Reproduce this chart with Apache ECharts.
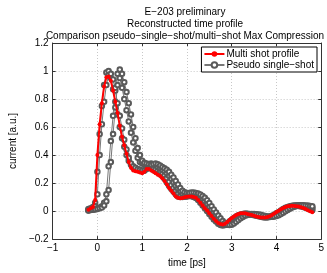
<!DOCTYPE html>
<html>
<head>
<meta charset="utf-8">
<script src="https://cdn.jsdelivr.net/npm/echarts@6/dist/echarts.min.js"></script>
<style>html,body{margin:0;padding:0;background:#fff}#c{width:327px;height:273px}</style>
</head>
<body>
<div id="c"></div>
<script>
var titleLines = ['E\u2212203 preliminary', 'Reconstructed time profile', 'Comparison pseudo\u2212single\u2212shot/multi\u2212shot Max Compression'];
var xLabel = 'time [ps]';
var yLabel = 'current [a.u.]';
var nameMulti = 'Multi shot profile';
var nameSingle = 'Pseudo single\u2212shot';

var timePs = [-0.20,-0.15,-0.10,-0.05,0.00,0.05,0.10,0.15,0.20,0.25,0.30,0.35,0.40,0.45,0.50,0.55,0.60,0.65,0.70,0.75,
0.80,0.85,0.90,0.95,1.00,1.05,1.10,1.15,1.20,1.25,1.30,1.35,1.40,1.45,1.50,1.55,1.60,1.65,1.70,1.75,
1.80,1.85,1.90,1.95,2.00,2.05,2.10,2.15,2.20,2.25,2.30,2.35,2.40,2.45,2.50,2.55,2.60,2.65,2.70,2.75,
2.80,2.85,2.90,2.95,3.00,3.05,3.10,3.15,3.20,3.25,3.30,3.35,3.40,3.45,3.50,3.55,3.60,3.65,3.70,3.75,
3.80,3.85,3.90,3.95,4.00,4.05,4.10,4.15,4.20,4.25,4.30,4.35,4.40,4.45,4.50,4.55,4.60,4.65,4.70,4.75,4.80];

var multiShot = [0.01,0.02,0.03,0.08,0.40,0.62,0.77,0.89,0.955,0.96,0.93,0.86,0.78,0.70,0.61,0.53,0.47,0.41,0.35,0.31,
0.29,0.285,0.28,0.275,0.27,0.28,0.30,0.30,0.29,0.28,0.27,0.26,0.25,0.235,0.215,0.19,0.165,0.145,0.125,0.105,
0.095,0.092,0.093,0.098,0.103,0.105,0.105,0.10,0.095,0.08,0.06,0.04,0.02,0.005,-0.015,-0.035,-0.055,-0.07,-0.085,-0.093,
-0.095,-0.09,-0.078,-0.064,-0.05,-0.038,-0.028,-0.02,-0.016,-0.015,-0.016,-0.02,-0.024,-0.028,-0.033,-0.038,-0.042,-0.045,-0.046,-0.045,
-0.042,-0.036,-0.028,-0.018,-0.007,0.003,0.013,0.022,0.029,0.034,0.037,0.038,0.037,0.035,0.032,0.028,0.022,0.014,0.006,-0.002,-0.008];

var single1 = [0.015,0.02,0.03,0.06,0.28,0.55,0.75,0.90,0.99,1.00,0.95,0.87,0.78,0.69,0.60,0.52,0.46,0.40,0.36,0.33,
0.31,0.30,0.295,0.29,0.285,0.29,0.31,0.315,0.305,0.295,0.285,0.275,0.265,0.25,0.23,0.205,0.18,0.16,0.14,0.12,
0.105,0.10,0.10,0.102,0.105,0.107,0.106,0.10,0.093,0.08,0.06,0.04,0.02,0.0,-0.02,-0.04,-0.06,-0.075,-0.09,-0.10,
-0.103,-0.098,-0.088,-0.075,-0.062,-0.05,-0.038,-0.03,-0.024,-0.02,-0.018,-0.019,-0.022,-0.025,-0.029,-0.033,-0.037,-0.041,-0.044,-0.045,
-0.044,-0.04,-0.034,-0.026,-0.016,-0.006,0.004,0.014,0.023,0.03,0.035,0.038,0.039,0.038,0.036,0.033,0.029,0.024,0.018,0.012,0.006];

var single2 = [0.01,0.015,0.02,0.035,0.12,0.40,0.62,0.78,0.90,0.97,0.98,0.94,0.86,0.77,0.68,0.59,0.51,0.44,0.38,0.34,
0.32,0.31,0.30,0.295,0.29,0.29,0.30,0.31,0.315,0.31,0.30,0.29,0.28,0.27,0.255,0.235,0.21,0.185,0.165,0.145,
0.125,0.11,0.105,0.105,0.108,0.11,0.112,0.11,0.105,0.095,0.08,0.06,0.04,0.02,0.0,-0.02,-0.04,-0.058,-0.075,-0.088,
-0.097,-0.10,-0.096,-0.087,-0.075,-0.062,-0.05,-0.04,-0.032,-0.026,-0.022,-0.02,-0.02,-0.022,-0.025,-0.029,-0.033,-0.037,-0.041,-0.043,
-0.044,-0.042,-0.038,-0.032,-0.024,-0.015,-0.005,0.005,0.015,0.023,0.03,0.035,0.038,0.04,0.04,0.038,0.035,0.031,0.027,0.022,0.017];

var single3 = [0.005,0.01,0.012,0.015,0.02,0.025,0.035,0.06,0.12,0.32,0.50,0.68,0.88,0.98,0.95,0.88,0.80,0.72,0.64,0.56,
0.49,0.43,0.38,0.35,0.34,0.335,0.33,0.335,0.34,0.335,0.325,0.315,0.305,0.295,0.285,0.27,0.25,0.23,0.205,0.18,
0.16,0.14,0.125,0.12,0.12,0.122,0.125,0.125,0.12,0.115,0.105,0.09,0.07,0.05,0.03,0.01,-0.01,-0.03,-0.05,-0.068,
-0.082,-0.092,-0.097,-0.095,-0.088,-0.077,-0.065,-0.053,-0.043,-0.035,-0.028,-0.024,-0.022,-0.021,-0.022,-0.025,-0.028,-0.032,-0.036,-0.039,
-0.041,-0.041,-0.04,-0.036,-0.03,-0.022,-0.013,-0.003,0.007,0.016,0.024,0.03,0.035,0.038,0.04,0.04,0.039,0.037,0.034,0.031,0.027];

var single4 = [0.005,0.008,0.01,0.012,0.015,0.02,0.025,0.04,0.07,0.15,0.35,0.55,0.74,0.90,1.01,0.98,0.92,0.85,0.77,0.69,
0.60,0.52,0.45,0.40,0.36,0.345,0.34,0.335,0.33,0.335,0.34,0.335,0.325,0.315,0.305,0.295,0.28,0.26,0.24,0.215,
0.19,0.165,0.145,0.135,0.13,0.13,0.132,0.133,0.13,0.125,0.118,0.108,0.095,0.078,0.058,0.035,0.012,-0.01,-0.032,-0.052,
-0.07,-0.085,-0.095,-0.10,-0.097,-0.088,-0.077,-0.064,-0.052,-0.042,-0.034,-0.028,-0.024,-0.022,-0.021,-0.022,-0.024,-0.027,-0.031,-0.035,
-0.038,-0.04,-0.04,-0.039,-0.035,-0.029,-0.021,-0.012,-0.002,0.008,0.017,0.025,0.031,0.036,0.039,0.041,0.041,0.04,0.039,0.037,0.034];

var singleTraces = [single1, single2, single3, single4];

function pairs(ys){ return timePs.map(function(t,i){ return [t, ys[i]]; }); }
function minus(v){ return String(v).replace('-', '\u2212'); }

var FONT = 'Liberation Sans, Arial, sans-serif';
var axisCol = '#333';
var gridLine = {show:true, lineStyle:{color:'#c8c8c8', type:[1,2], width:1}};

var series = [];
singleTraces.forEach(function(tr){
  series.push({
    name: nameSingle, type:'line', data: pairs(tr),
    symbol:'emptyCircle', symbolSize:4.5, showSymbol:true,
    lineStyle:{color:'#777', width:1},
    itemStyle:{color:'#5a5a5a', borderColor:'#5a5a5a', borderWidth:1},
    z:2, animation:false, silent:true
  });
});
series.push({
  name: nameMulti, type:'line', data: pairs(multiShot),
  symbol:'circle', symbolSize:4, showSymbol:true,
  lineStyle:{color:'#ff0000', width:2},
  itemStyle:{color:'#ff0000'},
  z:5, animation:false, silent:true
});

var chart = echarts.init(document.getElementById('c'), null, {renderer:'canvas'});
chart.setOption({
  backgroundColor:'#fff',
  animation:false,
  title: titleLines.map(function(s,i){
    return {text:s, left:180, top:2+i*12, textAlign:'center',
      textStyle:{fontFamily:FONT, fontSize:10, fontWeight:'normal', color:'#000'}};
  }),
  grid:{left:39, right:5, top:43, bottom:27, show:false},
  legend:{
    data:[nameMulti, nameSingle], orient:'vertical', right:10, top:47,
    backgroundColor:'#fff', borderColor:'#000', borderWidth:1, padding:[2,3,2,2],
    itemGap:1, itemWidth:20, itemHeight:7,
    textStyle:{fontFamily:FONT, fontSize:10, color:'#000', padding:[0,0,0,-3]}
  },
  xAxis:[{
    type:'value', min:-1, max:5, interval:1, position:'bottom',
    name:xLabel, nameLocation:'middle', nameGap:16,
    nameTextStyle:{fontFamily:FONT, fontSize:10, color:'#000'},
    axisLine:{show:true, onZero:false, lineStyle:{color:axisCol}},
    axisTick:{show:true, inside:true, length:3, lineStyle:{color:axisCol}},
    axisLabel:{fontFamily:FONT, fontSize:10, color:'#000', margin:4, formatter:minus},
    splitLine:gridLine
  },{
    type:'value', min:-1, max:5, interval:1, position:'top',
    axisLine:{show:true, onZero:false, lineStyle:{color:axisCol}},
    axisTick:{show:true, inside:true, length:3, lineStyle:{color:axisCol}},
    axisLabel:{show:false}, splitLine:{show:false}
  }],
  yAxis:[{
    type:'value', min:-0.2, max:1.2, interval:0.2, position:'left',
    name:yLabel, nameLocation:'middle', nameGap:29, nameRotate:90,
    nameTextStyle:{fontFamily:FONT, fontSize:10, color:'#000'},
    axisLine:{show:true, onZero:false, lineStyle:{color:axisCol}},
    axisTick:{show:true, inside:true, length:3, lineStyle:{color:axisCol}},
    axisLabel:{fontFamily:FONT, fontSize:10, color:'#000', margin:4, formatter:minus},
    splitLine:gridLine
  },{
    type:'value', min:-0.2, max:1.2, interval:0.2, position:'right',
    axisLine:{show:true, onZero:false, lineStyle:{color:axisCol}},
    axisTick:{show:true, inside:true, length:3, lineStyle:{color:axisCol}},
    axisLabel:{show:false}, splitLine:{show:false}
  }],
  series: series
});
</script>
</body>
</html>
